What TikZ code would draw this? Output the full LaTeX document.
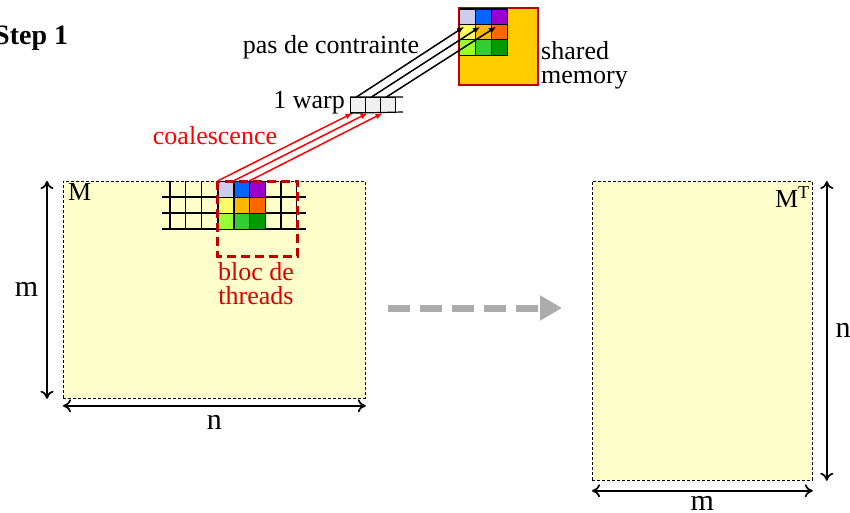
\documentclass[tikz,border=0pt]{standalone}
\usepackage{fontspec}
\setmainfont{Liberation Serif}
\usetikzlibrary{arrows.meta,positioning,calc}

\definecolor{paleyel}{HTML}{FFFFCC}
\definecolor{shmem}{HTML}{FFCC00}
\definecolor{darkred}{HTML}{C00000}
\definecolor{clav}{HTML}{CCCCEE}
\definecolor{cblue}{HTML}{0066FF}
\definecolor{cpurp}{HTML}{9900CC}
\definecolor{cyel}{HTML}{FFFF66}
\definecolor{corange}{HTML}{FFB800}
\definecolor{cred}{HTML}{FF6600}
\definecolor{clime}{HTML}{99FF33}
\definecolor{cgreen}{HTML}{33CC33}
\definecolor{cdkgreen}{HTML}{009900}

\begin{document}
\begin{tikzpicture}[x=1pt, y=-1pt,
  txt/.style={inner sep=0pt, font=\fontsize{26}{24}\selectfont},
  big/.style={inner sep=0pt, font=\fontsize{30}{32}\selectfont},
  mat/.style={draw, line width=0.8pt, dash pattern=on 3pt off 2pt, fill=paleyel,
              inner sep=0pt, anchor=north west},
  dim/.style={{To[length=8pt,width=13pt]}-{To[length=8pt,width=13pt]}, line width=1.7pt},
  cell/.style={draw, line width=1.2pt, inner sep=0pt, minimum width=15.9pt,
               minimum height=16pt, anchor=north west},
  arr/.style={-{Latex[length=7pt,width=6pt]}, line width=1.5pt}]
  \useasboundingbox (0,0) rectangle (850,513);

  % the two matrices
  \node[mat, minimum width=302pt, minimum height=217pt] (M) at (63,181) {};
  \node[mat, minimum width=220pt, minimum height=299pt] (MT) at (592,181) {};
  \node[txt, anchor=north west] (Mlbl) at (68,183) {M};
  \node[txt, anchor=north east] (MTlbl) at (810,186) {M\textsuperscript{T}};

  % sizes
  \draw[dim] ([xshift=-16]M.north west) -- node[big, left=8pt] (mleft) {m} ([xshift=-16]M.south west);
  \draw[dim] ([yshift=-7]M.south west) -- node[big, below=9pt] (nbot) {n} ([yshift=-7]M.south east);
  \draw[dim] ([xshift=14]MT.north east) -- node[big, right=8pt] (nright) {n} ([xshift=14]MT.south east);
  \draw[dim] ([yshift=-10]MT.south west) -- node[big, below=5pt] (mbot) {m} ([yshift=-10]MT.south east);

  % thread grid over M
  \foreach \k in {0,...,8}
    \draw[line width=1.2pt] (170+15.85*\k,181) -- (170+15.85*\k,229);
  \foreach \y in {197,213,229}
    \draw[line width=1.2pt] (162,\y) -- (306,\y);

  % one bloc of threads, and the shared memory
  \node[draw=darkred, fill=shmem, line width=2pt, minimum width=79pt, minimum height=77pt,
        inner sep=0pt, anchor=north west] (smem) at (458,7) {};
  \foreach \r/\c/\col in {1/1/clav,1/2/cblue,1/3/cpurp,2/1/cyel,2/2/corange,2/3/cred,
                          3/1/clime,3/2/cgreen,3/3/cdkgreen}{
    \node[cell, fill=\col] (g\r\c) at (217.5+15.85*\c-15.85,181+16*\r-16) {};
    \node[cell, fill=\col, minimum width=16pt, minimum height=15.4pt] (s\r\c)
      at (459+16*\c-16,8.5+15.4*\r-15.4) {};
  }
  \draw[darkred, line width=3pt, dash pattern=on 9pt off 5pt] (217.7,181) rectangle (297.7,256);

  % warp
  \foreach \c in {1,2,3}
    \node[cell, fill=gray!12, minimum width=15pt, minimum height=15pt] (w\c) at (350+15*\c-15,97) {};
  \draw[line width=1.2pt] (w1.north west) -- (403,97) (w1.south west) -- (403,112);

  % transfers
  \foreach \c in {1,2,3}{
    \draw[arr, red] (g1\c.north west) -- ([xshift=2.5]w\c.south west);
    \draw[arr] ([xshift=6.5]w\c.north west) -- ([shift={(5,3)}]s2\c.north west);
  }

  % big arrow between the matrices
  \coordinate (from) at (388,308);
  \coordinate (to) at (562,308);
  \draw[line width=7pt, gray!65, dash pattern=on 22pt off 10pt,
        -{Triangle[length=22pt,width=24pt]}] (from) -- (to);

  % labels
  \node[inner sep=0pt, anchor=west, font=\fontsize{28}{30}\selectfont\bfseries] (step) at (-6,38) {Step 1};
  \node[txt] (contr) at (331,47) {pas de contrainte};
  \node[txt, anchor=east] (warp) at (345,103) {1 warp};
  \node[txt, align=left, anchor=west] (shared) at (541,65) {shared\\memory};
  \node[txt, red] (coal) at (215,136) {coalescence};
  \node[txt, red!85!black, align=center] (bloc) at (256,284) {bloc de\\threads};
\end{tikzpicture}
\end{document}
